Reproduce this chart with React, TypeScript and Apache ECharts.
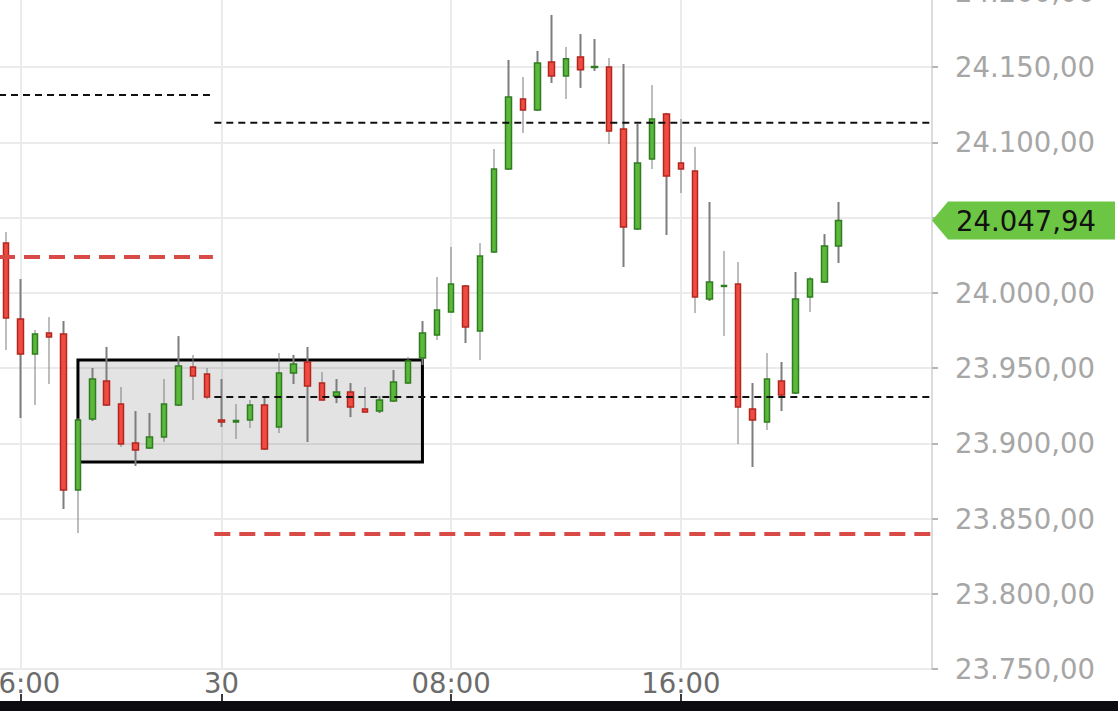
import React, { useEffect, useRef } from "react";
import * as echarts from "echarts";

// 30-minute slots (59 candles + 6 empty slots to the right)
const slotCount = 65;
const categories = Array.from({ length: slotCount }, (_, i) => `slot${i}`);

// tick labels on the time axis (slot index -> text)
const tickPositions = [1, 15, 31, 47];
const tickLabels = ["16:00", "30", "08:00", "16:00"];

const opens = [
  24033.1, 23982.6, 23959.3, 23973.3, 23972.6, 23868.9, 23916.1, 23941.4, 23926.1, 23900.2,
  23896.8, 23904.1, 23925.4, 23950.7, 23946.0, 23915.4, 23914.1, 23915.4, 23925.4, 23910.8,
  23946.7, 23954.0, 23940.0, 23931.4, 23934.0, 23922.7, 23921.4, 23928.1, 23940.0, 23956.6,
  23971.9, 23987.2, 24004.5, 23974.6, 24027.1, 24082.2, 24128.7, 24121.4, 24153.4, 24144.1,
  24156.7, 24149.7, 24150.0, 24108.8, 24042.4, 24088.9, 24118.8, 24086.2, 24080.9, 23995.8,
  24004.2, 24005.8, 23922.7, 23914.1, 23941.4, 23933.4, 23997.2, 24007.1, 24031.1,
];
const closes = [
  23983.2, 23959.3, 23972.6, 23970.6, 23868.9, 23915.4, 23942.7, 23925.4, 23899.5, 23895.5,
  23904.1, 23926.1, 23951.3, 23944.7, 23930.7, 23914.1, 23915.1, 23925.4, 23896.2, 23946.7,
  23952.7, 23938.0, 23928.7, 23934.0, 23924.1, 23920.7, 23928.7, 23940.7, 23954.6, 23973.3,
  23988.5, 24005.8, 23977.3, 24024.4, 24082.2, 24130.1, 24121.4, 24152.7, 24144.1, 24155.4,
  24148.1, 24150.3, 24107.5, 24043.7, 24086.2, 24115.5, 24077.6, 24082.2, 23997.2, 24007.1,
  24004.8, 23924.1, 23915.4, 23942.7, 23932.1, 23995.8, 24009.1, 24031.1, 24047.94,
];
const highs = [
  24040.4, 24009.1, 23975.3, 23983.9, 23981.2, 23916.8, 23950.0, 23964.0, 23937.4, 23921.4,
  23920.1, 23942.7, 23971.2, 23958.7, 23950.0, 23942.7, 23926.1, 23928.7, 23930.1, 23960.0,
  23958.7, 23964.0, 23947.3, 23942.7, 23940.0, 23937.4, 23931.4, 23948.7, 23957.3, 23981.2,
  24010.5, 24030.4, 24005.2, 24033.1, 24095.5, 24154.7, 24143.4, 24160.7, 24184.6, 24163.3,
  24171.9, 24168.6, 24156.0, 24152.0, 24112.1, 24138.0, 24119.5, 24115.5, 24096.9, 24060.3,
  24027.7, 24020.4, 23940.0, 23960.0, 23954.0, 24013.8, 24010.5, 24039.0, 24060.3,
];
const lows = [
  23962.0, 23916.8, 23925.4, 23939.4, 23856.3, 23840.3, 23914.8, 23924.7, 23897.5, 23884.9,
  23896.2, 23900.8, 23924.7, 23928.7, 23929.4, 23910.8, 23902.8, 23910.1, 23895.5, 23906.8,
  23939.4, 23900.8, 23928.1, 23926.7, 23917.4, 23920.1, 23920.1, 23927.4, 23939.4, 23952.0,
  23968.6, 23986.5, 23966.6, 23955.3, 24026.4, 24081.6, 24106.2, 24120.8, 24139.4, 24128.7,
  24136.1, 24147.4, 24098.8, 24017.1, 24041.7, 24082.2, 24038.4, 24066.3, 23986.5, 23994.5,
  23971.3, 23899.5, 23884.2, 23908.8, 23921.4, 23932.7, 23987.2, 24006.5, 24019.8,
];

// horizontal levels: value, from slot, to slot, kind
const levelValues = [24131.4, 24023.8, 24112.9, 23930.8, 23839.7];
const levelFrom = [-0.5, -0.5, 14.5, 14.5, 14.5];
const levelTo = [14.4, 14.4, 64.5, 64.5, 64.5];
const levelKinds = ["pivot", "resistance", "pivot", "pivot", "support"];

// consolidation box
const boxSlots = [5, 29];
const boxValues = [23955.3, 23887.5];

const yMin = 23750;
const yMax = 24200;
const yStep = 50;

const fmt = (v: number) => {
  const [i, d] = v.toFixed(2).split(".");
  return i.replace(/\B(?=(\d{3})+(?!\d))/g, ".") + "," + d;
};

export default function App() {
  const ref = useRef<HTMLDivElement>(null);

  useEffect(() => {
    const chart = echarts.init(ref.current!, null, { renderer: "svg" });
    const showIdx = (i: number) => tickPositions.indexOf(i) >= 0;
    const lastClose = closes[closes.length - 1];
    const wickData = lows.map((l, i) => [l, highs[i], l, highs[i]]);
    const bodyData = opens.map((o, i) => [
      o,
      closes[i],
      Math.min(o, closes[i]),
      Math.max(o, closes[i]),
    ]);

    const levelSeries = levelValues.map((v, k) => {
      const red = levelKinds[k] !== "pivot";
      return {
        type: "line",
        xAxisIndex: 2,
        yAxisIndex: 0,
        data: [
          [levelFrom[k], v],
          [levelTo[k], v],
        ],
        symbol: "none",
        silent: true,
        z: 4,
        lineStyle: red
          ? { color: "#d84a45", width: 4, type: [16, 9] }
          : { color: "#111111", width: 2, type: [7, 5] },
      };
    });

    const option: any = {
      animation: false,
      backgroundColor: "#ffffff",
      textStyle: { fontFamily: "DejaVu Sans" },
      grid: {
        left: -1,
        right: 186,
        top: -8.25,
        bottom: 42,
        containLabel: false,
        outerBoundsMode: "none",
      },
      xAxis: [
        {
          type: "category",
          data: categories,
          boundaryGap: true,
          axisLine: { show: false, onZero: false },
          axisTick: { show: false },
          axisLabel: {
            interval: (i: number) => showIdx(i),
            formatter: (_v: string, i: number) => {
              const k = tickPositions.indexOf(i);
              return k >= 0 ? tickLabels[k] : "";
            },
            color: "#6b6b6b",
            fontSize: 27.5,
            margin: 0,
          },
          splitLine: {
            show: true,
            interval: (i: number) => showIdx(i),
            alignWithLabel: true,
            lineStyle: { color: "#ebebeb", width: 2 },
          },
        },
        {
          type: "category",
          data: categories,
          position: "bottom",
          offset: 25,
          axisLine: { show: false, onZero: false },
          axisLabel: { show: false },
          axisTick: {
            show: true,
            interval: (i: number) => showIdx(i),
            alignWithLabel: true,
            length: 7,
            lineStyle: { color: "#3a3a3a", width: 2 },
          },
          splitLine: { show: false },
        },
        {
          type: "value",
          min: -0.5,
          max: slotCount - 0.5,
          show: false,
          axisLine: { onZero: false },
        },
      ],
      yAxis: {
        type: "value",
        position: "right",
        min: yMin,
        max: yMax,
        interval: yStep,
        axisLine: { show: true, onZero: false, lineStyle: { color: "#dcdcdc", width: 2 } },
        axisTick: { show: true, length: 6, lineStyle: { color: "#b5b5b5", width: 2 } },
        axisLabel: {
          color: "#a6a6a6",
          fontSize: 27.5,
          margin: 23,
          // the label under the last-price tag is hidden by the tag
          formatter: (v: number) => (Math.abs(v - lastClose) < yStep / 2 ? "" : fmt(v)),
        },
        splitLine: { show: true, lineStyle: { color: "#ebebeb", width: 2 } },
      },
      series: [
        {
          type: "candlestick",
          name: "wick",
          xAxisIndex: 0,
          data: wickData,
          barWidth: 2,
          silent: true,
          itemStyle: {
            color: "#7d7d7d",
            color0: "#7d7d7d",
            borderColor: "#7d7d7d",
            borderColor0: "#7d7d7d",
            borderWidth: 0,
          },
        },
        {
          type: "candlestick",
          name: "body",
          xAxisIndex: 0,
          data: bodyData,
          barWidth: 6,
          silent: true,
          itemStyle: {
            color: "#5cb83a",
            color0: "#ef4b42",
            borderColor: "#2f7d20",
            borderColor0: "#b3261e",
            borderWidth: 1.5,
          },
          markArea: {
            silent: true,
            itemStyle: {
              color: "rgba(0,0,0,0.11)",
              borderColor: "#000000",
              borderWidth: 3,
            },
            data: [
              [
                { coord: [boxSlots[0], boxValues[0]] },
                { coord: [boxSlots[1], boxValues[1]] },
              ],
            ],
          },
        },
        ...levelSeries,
      ],
    };
    chart.setOption(option);

    const py = chart.convertToPixel({ yAxisIndex: 0 }, lastClose) as number;
    const ax = chart.convertToPixel({ xAxisIndex: 2 }, slotCount - 0.5) as number;
    chart.setOption({
      graphic: [
        {
          type: "polygon",
          z: 100,
          shape: {
            points: [
              [ax, py],
              [ax + 16, py - 19],
              [1115, py - 19],
              [1115, py + 19],
              [ax + 16, py + 19],
            ],
          },
          style: { fill: "#6cc644" },
        },
        {
          type: "text",
          z: 101,
          x: ax + 24,
          y: py,
          style: {
            text: fmt(lastClose),
            fill: "#111111",
            fontSize: 27.5,
            fontFamily: "DejaVu Sans",
            align: "left",
            verticalAlign: "middle",
          },
        },
        {
          type: "rect",
          z: 200,
          shape: { x: 0, y: 701, width: 1118, height: 10 },
          style: { fill: "#0c0c10" },
        },
      ],
    });

    return () => chart.dispose();
  }, []);

  return (
    <div
      ref={ref}
      style={{ position: "absolute", left: 0, top: 0, width: 1118, height: 711, background: "#fff" }}
    />
  );
}
